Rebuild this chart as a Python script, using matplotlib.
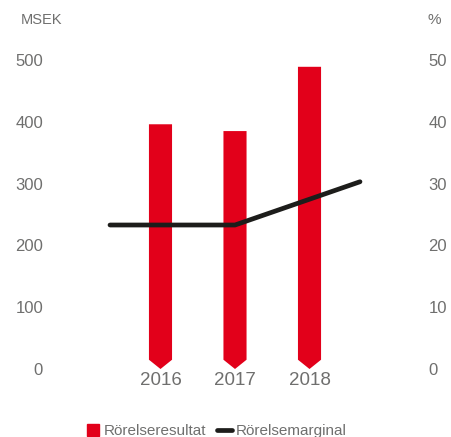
import matplotlib
matplotlib.use('Agg')
import matplotlib.pyplot as plt
import numpy as np
from matplotlib.lines import Line2D

plt.rcParams['font.family'] = ['Liberation Sans', 'DejaVu Sans']

years = ['2016', '2017', '2018']
rorelseresultat = [396, 385, 489]     # MSEK
rorelsemarginal = [23.3, 23.3, 30.3]  # %
yticks_left = [0, 100, 200, 300, 400, 500]
yticks_right = [0, 10, 20, 30, 40, 50]

red = '#e2001a'
black = '#1d1d1b'
grey = '#6f6f6e'

W, H = 451, 437
fig = plt.figure(figsize=(W/100, H/100), dpi=100)
rect = [50/W, (H-369)/H, 370/W, 309/H]
ax = fig.add_axes(rect, frameon=False)

# bars with a chevron-shaped foot
bw = 0.31
notch = 15
for i, v in enumerate(rorelseresultat):
    xs = [i-bw/2, i+bw/2, i+bw/2, i, i-bw/2]
    ys = [v, v, notch, 0, notch]
    ax.fill(xs, ys, color=red, lw=0)

ax.set_xlim(-1.483, 3.483)
ax.set_ylim(0, 500)
ax.set_yticks(yticks_left)
ax.set_xticks(range(len(years)))
ax.set_xticklabels(years)
ax.tick_params(axis='y', length=0, pad=5, labelsize=12, labelcolor=grey)
ax.tick_params(axis='x', length=0, pad=2, labelsize=13.5, labelcolor=grey)

# margin line on its own overlay axes
ax2 = fig.add_axes(rect, frameon=False)
ax2.plot(range(len(years)), rorelsemarginal, color=black, lw=3.4,
         solid_capstyle='round', solid_joinstyle='round')
ax2.set_xlim(-0.48, 2.48)
ax2.set_ylim(0, 50)
ax2.set_xticks([])
ax2.yaxis.tick_right()
ax2.set_yticks(yticks_right)
ax2.tick_params(axis='y', length=0, pad=6, labelsize=12, labelcolor=grey)

fig.text(21/W, 1-20/H, 'MSEK', fontsize=10.5, color=grey, ha='left', va='center')
fig.text(441/W, 1-20/H, '%', fontsize=11, color=grey, ha='right', va='center')

handles = [Line2D([], [], marker='s', color=red, ls='none', markersize=9),
           Line2D([], [], color=black, lw=3.4, solid_capstyle='round')]
fig.legend(handles, ['Rörelseresultat', 'Rörelsemarginal'], loc='center',
           bbox_to_anchor=(0.479, 1-431/H), ncol=2, frameon=False,
           fontsize=11, labelcolor=grey, handlelength=1.0, handletextpad=0.2,
           columnspacing=0.7)

fig.savefig('out.png', dpi=100)
